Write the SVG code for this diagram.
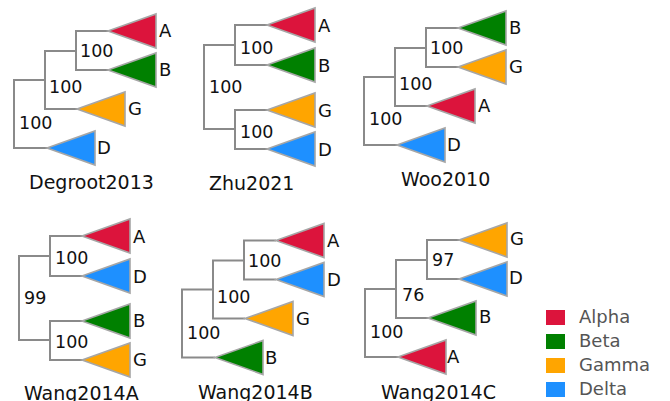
<svg xmlns="http://www.w3.org/2000/svg" width="670" height="401" viewBox="0 0 670 401">
  <style>
    text { font-family: "DejaVu Sans", Verdana, sans-serif; fill: #111; }
    .branch { fill: none; stroke: #8a8a8a; stroke-width: 2; }
    .clade { stroke: #a6a6a6; stroke-width: 1.6; stroke-linejoin: miter; }
    .alpha { fill: #DC143C; }
    .beta { fill: #008000; }
    .gamma { fill: #FFA500; }
    .delta { fill: #1E90FF; }
    .tip { font-size: 18px; }
    .support { font-size: 17.5px; }
    .title { font-size: 19px; }
    .legend { font-size: 18px; fill: #555; }
  </style>

  <!-- Degroot2013: ((( A, B ), G ), D) -->
  <g id="degroot2013" transform="translate(0,0)">
    <g id="degroot2013-connectors">
      <path class="branch" d="M47,148 H14 V80 H45"/>
      <path class="branch" d="M77,109 H45 V51 H76"/>
      <path class="branch" d="M108,70 H76 V31 H108"/>
    </g>
    <g id="degroot2013-A"><polygon class="clade alpha" points="108,31 156,14 156,48"/><text class="tip" x="159" y="37">A</text></g>
    <g id="degroot2013-B"><polygon class="clade beta" points="108,70 156,53 156,87"/><text class="tip" x="159" y="76">B</text></g>
    <g id="degroot2013-G"><polygon class="clade gamma" points="77,109 125,92 125,126"/><text class="tip" x="128" y="115">G</text></g>
    <g id="degroot2013-D"><polygon class="clade delta" points="47,148 95,131 95,165"/><text class="tip" x="97" y="154">D</text></g>
    <text class="support" x="80" y="57">100</text>
    <text class="support" x="49" y="93">100</text>
    <text class="support" x="19" y="129">100</text>
    <text class="title" x="29" y="189">Degroot2013</text>
  </g>

  <!-- Zhu2021: (( A, B ), ( G, D )) -->
  <g id="zhu2021" transform="translate(0,0)">
    <g id="zhu2021-connectors">
      <path class="branch" d="M235,45 H204 V129 H235"/>
      <path class="branch" d="M267,25 H235 V65 H267"/>
      <path class="branch" d="M267,110 H235 V149 H267"/>
    </g>
    <g id="zhu2021-A"><polygon class="clade alpha" points="267,25 315,8 315,42"/><text class="tip" x="318" y="32">A</text></g>
    <g id="zhu2021-B"><polygon class="clade beta" points="267,65 315,48 315,82"/><text class="tip" x="318" y="72">B</text></g>
    <g id="zhu2021-G"><polygon class="clade gamma" points="267,110 315,93 315,127"/><text class="tip" x="318" y="117">G</text></g>
    <g id="zhu2021-D"><polygon class="clade delta" points="267,149 315,132 315,166"/><text class="tip" x="318" y="156">D</text></g>
    <text class="support" x="240" y="54">100</text>
    <text class="support" x="209" y="93">100</text>
    <text class="support" x="240" y="138">100</text>
    <text class="title" x="209" y="190">Zhu2021</text>
  </g>

  <!-- Woo2010: ((( B, G ), A ), D) -->
  <g id="woo2010" transform="translate(350,-3)">
    <g id="woo2010-connectors">
      <path class="branch" d="M47,148 H14 V80 H45"/>
      <path class="branch" d="M77,109 H45 V51 H76"/>
      <path class="branch" d="M108,70 H76 V31 H108"/>
    </g>
    <g id="woo2010-B"><polygon class="clade beta" points="108,31 156,14 156,48"/><text class="tip" x="159" y="37">B</text></g>
    <g id="woo2010-G"><polygon class="clade gamma" points="108,70 156,53 156,87"/><text class="tip" x="159" y="76">G</text></g>
    <g id="woo2010-A"><polygon class="clade alpha" points="77,109 125,92 125,126"/><text class="tip" x="128" y="115">A</text></g>
    <g id="woo2010-D"><polygon class="clade delta" points="47,148 95,131 95,165"/><text class="tip" x="97" y="154">D</text></g>
    <text class="support" x="80" y="57">100</text>
    <text class="support" x="49" y="93">100</text>
    <text class="support" x="19" y="128">100</text>
    <text class="title" x="51" y="189">Woo2010</text>
  </g>

  <!-- Wang2014A: (( A, D ), ( B, G )) -->
  <g id="wang2014a" transform="translate(-185,211)">
    <g id="wang2014a-connectors">
      <path class="branch" d="M235,45 H204 V129 H235"/>
      <path class="branch" d="M267,25 H235 V65 H267"/>
      <path class="branch" d="M267,110 H235 V149 H267"/>
    </g>
    <g id="wang2014a-A"><polygon class="clade alpha" points="267,25 315,8 315,42"/><text class="tip" x="318" y="32">A</text></g>
    <g id="wang2014a-D"><polygon class="clade delta" points="267,65 315,48 315,82"/><text class="tip" x="318" y="72">D</text></g>
    <g id="wang2014a-B"><polygon class="clade beta" points="267,110 315,93 315,127"/><text class="tip" x="318" y="116">B</text></g>
    <g id="wang2014a-G"><polygon class="clade gamma" points="267,149 315,132 315,166"/><text class="tip" x="318" y="155">G</text></g>
    <text class="support" x="240" y="53">100</text>
    <text class="support" x="209" y="93">99</text>
    <text class="support" x="240" y="137">100</text>
    <text class="title" x="209" y="189">Wang2014A</text>
  </g>

  <!-- Wang2014B: ((( A, D ), G ), B) -->
  <g id="wang2014b" transform="translate(168,209.5)">
    <g id="wang2014b-connectors">
      <path class="branch" d="M47,148 H14 V80 H45"/>
      <path class="branch" d="M77,109 H45 V51 H76"/>
      <path class="branch" d="M108,70 H76 V31 H108"/>
    </g>
    <g id="wang2014b-A"><polygon class="clade alpha" points="108,31 156,14 156,48"/><text class="tip" x="159" y="37">A</text></g>
    <g id="wang2014b-D"><polygon class="clade delta" points="108,70 156,53 156,87"/><text class="tip" x="159" y="76">D</text></g>
    <g id="wang2014b-G"><polygon class="clade gamma" points="77,109 125,92 125,126"/><text class="tip" x="128" y="115">G</text></g>
    <g id="wang2014b-B"><polygon class="clade beta" points="47,148 95,131 95,165"/><text class="tip" x="97" y="154">B</text></g>
    <text class="support" x="80" y="57">100</text>
    <text class="support" x="49" y="93">100</text>
    <text class="support" x="19" y="129">100</text>
    <text class="title" x="30" y="189.5">Wang2014B</text>
  </g>

  <!-- Wang2014C: ((( G, D ), B ), A) -->
  <g id="wang2014c" transform="translate(351,209)">
    <g id="wang2014c-connectors">
      <path class="branch" d="M47,148 H14 V80 H45"/>
      <path class="branch" d="M77,109 H45 V51 H76"/>
      <path class="branch" d="M108,70 H76 V31 H108"/>
    </g>
    <g id="wang2014c-G"><polygon class="clade gamma" points="108,31 156,14 156,48"/><text class="tip" x="159" y="36">G</text></g>
    <g id="wang2014c-D"><polygon class="clade delta" points="108,70 156,53 156,87"/><text class="tip" x="158" y="75">D</text></g>
    <g id="wang2014c-B"><polygon class="clade beta" points="77,109 125,92 125,126"/><text class="tip" x="128" y="114">B</text></g>
    <g id="wang2014c-A"><polygon class="clade alpha" points="47,148 95,131 95,165"/><text class="tip" x="96" y="154">A</text></g>
    <text class="support" x="81" y="57">97</text>
    <text class="support" x="51" y="92">76</text>
    <text class="support" x="19" y="129">100</text>
    <text class="title" x="30" y="190">Wang2014C</text>
  </g>

  <!-- Legend -->
  <g id="legend">
    <g id="legend-alpha"><rect class="alpha" x="546" y="310" width="19" height="15"/><text class="legend" x="579" y="323">Alpha</text></g>
    <g id="legend-beta"><rect class="beta" x="546" y="334" width="19" height="15"/><text class="legend" x="579" y="347">Beta</text></g>
    <g id="legend-gamma"><rect class="gamma" x="546" y="358" width="19" height="15"/><text class="legend" x="579" y="371">Gamma</text></g>
    <g id="legend-delta"><rect class="delta" x="546" y="382" width="19" height="15"/><text class="legend" x="579" y="395">Delta</text></g>
  </g>
</svg>
